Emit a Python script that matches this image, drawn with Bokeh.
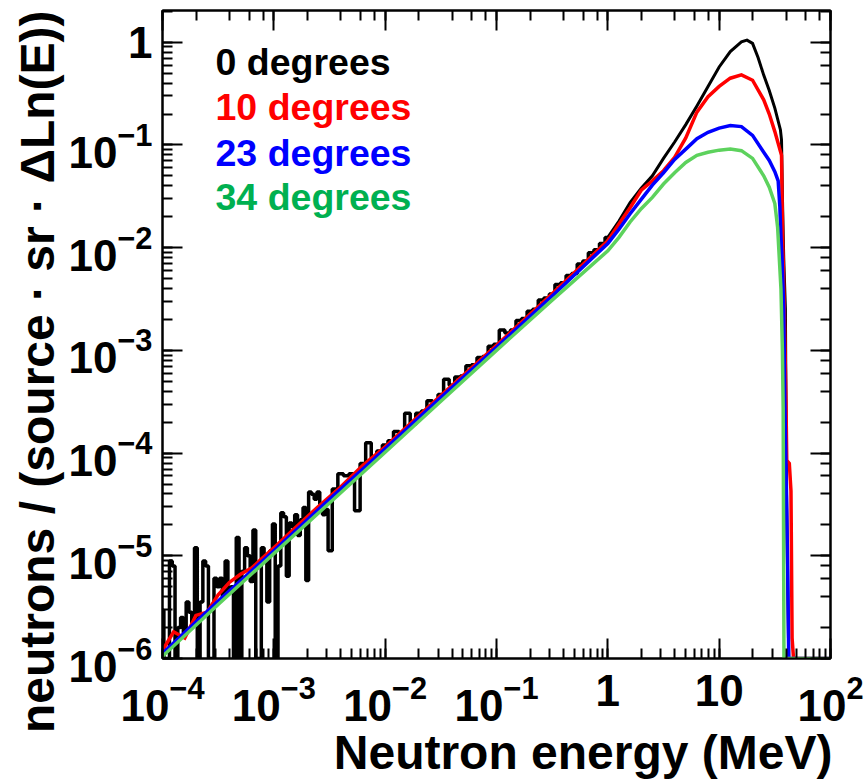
import numpy as np
from bokeh.plotting import figure
from bokeh.models import LogAxis, Label, ColumnDataSource, Title
from bokeh.embed import file_html
from bokeh.resources import INLINE

# ---------------- data ----------------
legend_labels = ["0 degrees", "10 degrees", "23 degrees", "34 degrees"]
x_title = "Neutron energy (MeV)"
y_title = "neutrons / (source \u00b7 sr \u00b7 \u0394Ln(E))"

# 0 degrees, noisy low-energy part (histogram bins, MeV)
black_low_energy_mev = [
    1.000e-4, 1.059e-4, 1.122e-4, 1.189e-4, 1.259e-4, 1.334e-4, 1.413e-4, 1.496e-4, 1.585e-4, 1.679e-4,
    1.778e-4, 1.884e-4, 1.995e-4, 2.113e-4, 2.239e-4, 2.371e-4, 2.512e-4, 2.661e-4, 2.818e-4, 2.985e-4,
    3.162e-4, 3.350e-4, 3.548e-4, 3.758e-4, 3.981e-4, 4.217e-4, 4.467e-4, 4.732e-4, 5.012e-4, 5.309e-4,
    5.623e-4, 5.957e-4, 6.310e-4, 6.683e-4, 7.079e-4, 7.499e-4, 7.943e-4, 8.414e-4, 8.913e-4, 9.441e-4,
    1.000e-3, 1.059e-3, 1.122e-3, 1.189e-3, 1.259e-3, 1.334e-3, 1.413e-3, 1.496e-3, 1.585e-3, 1.679e-3,
    1.778e-3, 1.884e-3, 1.995e-3, 2.113e-3, 2.239e-3, 2.371e-3, 2.512e-3, 2.661e-3, 2.818e-3, 2.985e-3,
    3.162e-3, 3.548e-3, 3.981e-3, 4.467e-3, 5.012e-3, 5.623e-3, 6.310e-3, 7.079e-3, 7.943e-3, 8.913e-3,
    1.000e-2, 1.122e-2, 1.259e-2, 1.413e-2, 1.585e-2, 1.778e-2, 1.995e-2, 2.239e-2, 2.512e-2, 2.818e-2,
    3.162e-2, 3.548e-2, 3.981e-2, 4.467e-2, 5.012e-2, 5.623e-2, 6.310e-2, 7.079e-2, 7.943e-2, 8.913e-2,
    1.000e-1, 1.122e-1, 1.259e-1, 1.413e-1, 1.585e-1, 1.778e-1, 1.995e-1, 2.239e-1, 2.512e-1, 2.818e-1,
    3.162e-1, 3.548e-1, 3.981e-1, 4.467e-1, 5.012e-1, 5.623e-1, 6.310e-1, 7.079e-1, 7.943e-1, 8.913e-1,
    1.0,
]
black_low_values = [
    2.95e-6, 0, 0, 8.91e-6, 7.94e-6, 0, 2.00e-6, 2.51e-6, 1.78e-6, 3.55e-6,
    2.82e-6, 2.24e-6, 1.20e-5, 0, 3.55e-6, 8.91e-6, 7.94e-6, 0, 0, 6.03e-6,
    5.01e-6, 6.03e-6, 3.98e-6, 8.91e-6, 4.47e-6, 5.01e-6, 0, 1.51e-5, 0, 7.08e-6,
    1.20e-5, 1.00e-5, 5.62e-6, 1.78e-5, 0, 0, 1.20e-5, 1.00e-5, 3.55e-6, 1.12e-5,
    2.04e-5, 0, 7.94e-6, 2.63e-5, 2.40e-5, 6.31e-6, 2.09e-5, 1.91e-5, 2.51e-5, 1.58e-5,
    2.24e-5, 2.95e-5, 5.75e-6, 4.17e-5, 3.98e-5, 3.55e-5, 4.17e-5, 3.16e-5, 2.51e-5, 2.82e-5,
    1.12e-5, 4.47e-5, 6.31e-5, 6.03e-5, 6.31e-5, 2.75e-5, 7.94e-5, 1.26e-4, 8.91e-5, 1.05e-4,
    1.20e-4, 1.32e-4, 1.62e-4, 1.55e-4, 2.45e-4, 1.91e-4, 2.45e-4, 2.57e-4, 3.24e-4, 3.09e-4,
    3.72e-4, 5.25e-4, 4.57e-4, 5.50e-4, 5.62e-4, 7.08e-4, 7.24e-4, 8.51e-4, 8.71e-4, 1.10e-3,
    1.15e-3, 1.58e-3, 1.48e-3, 1.58e-3, 1.95e-3, 2.04e-3, 2.40e-3, 2.51e-3, 3.09e-3, 3.24e-3,
    3.55e-3, 4.37e-3, 4.57e-3, 5.37e-3, 5.62e-3, 6.92e-3, 7.41e-3, 8.91e-3, 9.55e-3, 1.10e-2,
    1.26e-2,
]

# 0 degrees, high-energy part
black_high_energy_mev = [1.0, 1.259, 1.585, 1.995, 2.512, 3.162, 3.981, 5.012, 6.310, 7.943,
                         10.0, 12.59, 15.85, 17.78, 19.95, 22.39, 25.12, 28.18, 31.62, 35.48,
                         36.31, 37.15, 38.02, 39.36, 40.27, 41.21, 42.17, 100.0]
black_high_values = [1.26e-2, 1.82e-2, 2.75e-2, 3.80e-2, 5.01e-2, 7.41e-2, 0.107, 0.158, 0.240, 0.372,
                     0.575, 0.813, 1.01, 1.05, 0.977, 0.708, 0.479, 0.339, 0.229, 0.141,
                     0.112, 2.51e-2, 7.94e-3, 2.51e-3, 3.98e-5, 6.31e-6, 0, 0]

# 10 degrees
red_energy_mev = [1.000e-4, 1.259e-4, 1.585e-4, 1.995e-4, 2.512e-4, 3.162e-4, 3.981e-4, 5.012e-4, 6.310e-4, 7.943e-4,
                  1.0e-3, 1.585e-3, 2.512e-3, 3.981e-3, 6.310e-3, 1.0e-2, 3.162e-2, 0.1, 0.3162,
                  1.0, 1.259, 1.585, 1.995, 2.512, 3.162, 3.981, 5.012, 6.310, 7.943,
                  10.0, 12.59, 15.85, 19.95, 25.12, 28.18, 31.62, 35.48, 36.31, 37.15,
                  38.46, 39.81, 40.46, 42.66, 44.16, 45.19, 46.56, 100.0]
red_values = [1.20e-6, 1.82e-6, 1.58e-6, 2.63e-6, 2.82e-6, 4.17e-6, 5.50e-6, 6.61e-6, 7.59e-6, 9.55e-6,
              1.20e-5, 1.91e-5, 3.02e-5, 4.68e-5, 7.59e-5, 1.15e-4, 3.63e-4, 1.12e-3, 3.55e-3,
              1.17e-2, 1.70e-2, 2.45e-2, 3.63e-2, 4.47e-2, 5.62e-2, 7.59e-2, 0.117, 0.209, 0.295,
              0.372, 0.447, 0.481, 0.427, 0.275, 0.200, 0.135, 8.71e-2, 7.94e-2, 1.26e-2,
              2.51e-3, 3.16e-4, 8.51e-5, 7.94e-5, 4.27e-5, 1.58e-6, 0, 0]

# 23 degrees
blue_energy_mev = [1.0e-4, 3.162e-4, 1.0e-3, 3.162e-3, 1.0e-2, 3.162e-2, 0.1, 0.3162,
                   1.0, 1.259, 1.585, 1.995, 2.512, 3.162, 3.981, 5.012, 6.310, 7.943,
                   10.0, 12.59, 15.85, 19.95, 25.12, 28.18, 31.62, 33.88, 35.08, 35.89,
                   36.73, 38.02, 38.90, 40.27, 41.21, 42.17, 100.0]
blue_values = [1.12e-6, 3.63e-6, 1.12e-5, 3.55e-5, 1.10e-4, 3.47e-4, 1.07e-3, 3.39e-3,
               1.10e-2, 1.51e-2, 2.14e-2, 2.95e-2, 4.07e-2, 5.37e-2, 7.24e-2, 9.12e-2, 0.115, 0.133,
               0.146, 0.155, 0.151, 0.124, 8.51e-2, 7.08e-2, 5.50e-2, 4.47e-2, 2.51e-2, 1.26e-2,
               7.94e-3, 2.51e-3, 3.16e-4, 3.98e-5, 7.94e-6, 0, 0]

# 34 degrees
green_energy_mev = [1.0e-4, 3.162e-4, 1.0e-3, 3.162e-3, 1.0e-2, 3.162e-2, 0.1, 0.3162,
                    1.0, 1.259, 1.585, 1.995, 2.512, 3.162, 3.981, 5.012, 6.310, 7.943,
                    10.0, 12.59, 15.85, 19.95, 25.12, 28.18, 31.62, 33.50, 34.67, 35.89,
                    36.98, 37.58, 38.19, 100.0]
green_values = [1.05e-6, 3.35e-6, 1.05e-5, 3.27e-5, 1.02e-4, 3.20e-4, 1.00e-3, 3.09e-3,
                9.33e-3, 1.26e-2, 1.78e-2, 2.40e-2, 3.09e-2, 4.17e-2, 5.37e-2, 6.76e-2, 7.94e-2, 8.51e-2,
                8.91e-2, 9.12e-2, 8.81e-2, 7.41e-2, 5.01e-2, 3.89e-2, 2.69e-2, 1.58e-2, 7.94e-3, 3.98e-3,
                1.00e-3, 2.75e-4, 0, 0]

# ---------------- styling ----------------
X_MIN, X_MAX = 1e-4, 1e2
Y_MIN, Y_MAX = 1e-6, 2.04
FONT = "Liberation Sans"
BLACK, RED, BLUE = "#000000", "#ff0000", "#0000ff"
GREEN_LINE, GREEN_TEXT = "#5dd25d", "#00b050"
legend_text_colors = [BLACK, RED, BLUE, GREEN_TEXT]


def histo(v):
    """Empty bins are drawn on the frame floor, as ROOT does."""
    a = np.asarray(v, dtype=float)
    return np.where(a > 0, a, Y_MIN)


p = figure(width=867, height=782,
           x_axis_type="log", y_axis_type="log",
           x_range=(X_MIN, X_MAX), y_range=(Y_MIN, Y_MAX),
           output_backend="svg", toolbar_location=None,
           min_border_left=162, min_border_right=37,
           min_border_top=10, min_border_bottom=124)
p.background_fill_color = "white"
p.border_fill_color = "white"
p.xgrid.visible = False
p.ygrid.visible = False
p.outline_line_color = "black"
p.outline_line_width = 2


def style_axis(ax, show_labels=True):
    ax.axis_line_color = "black"
    ax.axis_line_width = 2
    ax.major_tick_in = 20
    ax.major_tick_out = 0
    ax.minor_tick_in = 10
    ax.minor_tick_out = 0
    ax.major_tick_line_width = 2
    ax.minor_tick_line_width = 2
    ax.major_tick_line_color = "black"
    ax.minor_tick_line_color = "black"
    ax.major_label_text_font = FONT
    ax.major_label_text_font_style = "bold"
    ax.major_label_text_color = "black"
    if show_labels:
        ax.major_label_text_font_size = "44px"
    else:
        ax.major_label_text_font_size = "1px"
        ax.major_label_text_alpha = 0
        ax.major_label_standoff = 0


xa = p.xaxis[0]
ya = p.yaxis[0]
style_axis(xa)
style_axis(ya)
xa.major_label_standoff = 16
ya.major_label_standoff = 10
xa.major_label_overrides = {1: "1", 10: "10"}
ya.major_label_overrides = {1: "1"}

top_axis = LogAxis()
right_axis = LogAxis()
style_axis(top_axis, show_labels=False)
style_axis(right_axis, show_labels=False)
p.add_layout(top_axis, "above")
p.add_layout(right_axis, "right")

# axis titles, aligned to the far end of each axis as ROOT does
p.add_layout(Title(text=x_title, align="right", text_font=FONT, text_font_style="bold",
                   text_font_size="48px", text_color="black", standoff=0, offset=-2), "below")
p.add_layout(Title(text=y_title, align="right", text_font=FONT, text_font_style="bold",
                   text_font_size="48px", text_color="black", standoff=4, offset=0), "left")

# ---------------- curves ----------------
src_black_low = ColumnDataSource(dict(x=black_low_energy_mev, y=histo(black_low_values)))
src_black_high = ColumnDataSource(dict(x=black_high_energy_mev, y=histo(black_high_values)))
src_red = ColumnDataSource(dict(x=red_energy_mev, y=histo(red_values)))
src_blue = ColumnDataSource(dict(x=blue_energy_mev, y=histo(blue_values)))
src_green = ColumnDataSource(dict(x=green_energy_mev, y=histo(green_values)))

p.step("x", "y", source=src_black_low, mode="center", line_color=BLACK, line_width=3.5)
p.line("x", "y", source=src_black_high, line_color=BLACK, line_width=3, line_join="miter")
p.line("x", "y", source=src_red, line_color=RED, line_width=3.5, line_join="miter")
p.line("x", "y", source=src_blue, line_color=BLUE, line_width=3.5, line_join="miter")
p.line("x", "y", source=src_green, line_color=GREEN_LINE, line_width=3.5, line_join="miter")

# ---------------- legend (plain coloured texts, as in ROOT) ----------------
legend_left = 53
legend_baselines = [597.0, 551.3, 506.0, 462.0]
for txt, col, yb in zip(legend_labels, legend_text_colors, legend_baselines):
    p.add_layout(Label(x=legend_left, y=yb, x_units="screen", y_units="screen",
                       text=txt, text_color=col, text_font=FONT,
                       text_font_style="bold", text_font_size="37.5px",
                       text_baseline="alphabetic"))

open("out.html", "w").write(file_html(p, INLINE))
